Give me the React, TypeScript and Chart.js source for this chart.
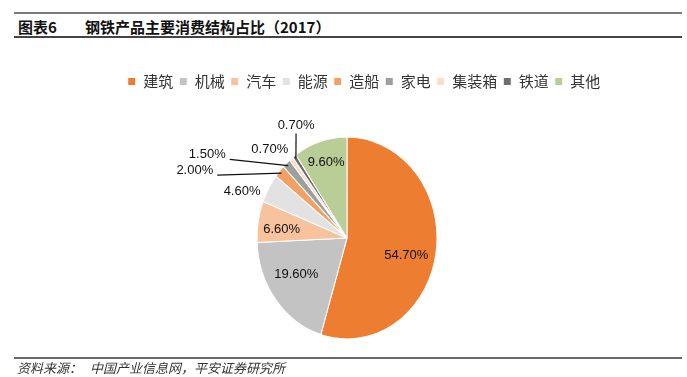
import React, { useEffect, useRef } from "react";
import { Chart, registerables } from "chart.js";

Chart.register(...registerables);

const categories = ["建筑", "机械", "汽车", "能源", "造船", "家电", "集装箱", "铁道", "其他"];
const shares = [54.7, 19.6, 6.6, 4.6, 2.0, 1.5, 0.7, 0.7, 9.6];
const sliceColors = ["#ED7D31", "#C3C3C3", "#F8C29C", "#E2E2E2", "#F3A064", "#9E9E9E", "#FBDECA", "#6E6E6E", "#B9CD96"];

// label placement relative to each slice: angular offset (deg) from slice middle, radial factor, leader line
const labelAngleOffset = [6, 5, -3, -7.8, -19.7, -19.6, -5.9, 8.9, 0];
const labelRadius = [0.68, 0.67, 0.73, 1.255, 1.82, 1.76, 1.23, 1.25, 0.78];
const labelLeader = ["", "", "", "", "side", "side", "", "down", ""];

const SCALE_Y = 1.122;
const PIE_RADIUS = 90;

const ellipsePlugin = {
  id: "ellipsePie",
  afterLayout(chart: any) {
    const lg = chart.legend;
    if (lg) {
      lg.left += 17;
      lg.right += 17;
    }
  },
  beforeDatasetsDraw(chart: any) {
    const arcs = chart.getDatasetMeta(0).data;
    if (!arcs.length) return;
    const { x, y } = arcs[0];
    const ctx = chart.ctx;
    ctx.save();
    ctx.translate(x, y);
    ctx.scale(1, SCALE_Y);
    ctx.translate(-x, -y);
  },
  afterDatasetsDraw(chart: any) {
    const ctx = chart.ctx;
    ctx.restore();
    const arcs = chart.getDatasetMeta(0).data;
    ctx.save();
    ctx.font = "13px 'Liberation Sans', Arial, sans-serif";
    ctx.fillStyle = "#111";
    ctx.strokeStyle = "#111";
    ctx.lineWidth = 1.2;
    ctx.textAlign = "center";
    ctx.textBaseline = "middle";
    arcs.forEach((arc: any, i: number) => {
      const cx = arc.x;
      const cy = arc.y;
      const R = arc.outerRadius;
      const mid = (arc.startAngle + arc.endAngle) / 2;
      const a = mid + (labelAngleOffset[i] * Math.PI) / 180;
      const tx = cx + Math.cos(a) * R * labelRadius[i];
      const ty = cy + Math.sin(a) * R * labelRadius[i] * SCALE_Y;
      const text = shares[i].toFixed(2) + "%";
      ctx.fillText(text, tx, ty);
      const ex = cx + Math.cos(mid) * R * 0.97;
      const ey = cy + Math.sin(mid) * R * 0.97 * SCALE_Y;
      if (labelLeader[i] === "side") {
        const w = ctx.measureText(text).width;
        ctx.beginPath();
        ctx.moveTo(tx + w / 2 + 4, ty + 5);
        ctx.lineTo(ex, ey);
        ctx.stroke();
      } else if (labelLeader[i] === "down") {
        ctx.beginPath();
        ctx.moveTo(tx, ty + 8);
        ctx.lineTo(ex, ey);
        ctx.stroke();
      }
    });
    ctx.restore();
  },
};

export default function App() {
  const canvasRef = useRef<HTMLCanvasElement | null>(null);

  useEffect(() => {
    if (!canvasRef.current) return;
    const chart = new Chart(canvasRef.current, {
      type: "pie",
      data: {
        labels: categories,
        datasets: [
          {
            data: shares,
            backgroundColor: sliceColors,
            borderColor: "#ffffff",
            borderWidth: 1,
            radius: PIE_RADIUS,
          } as any,
        ],
      },
      options: {
        responsive: false,
        animation: false,
        layout: { padding: { left: 7, top: 68, bottom: 0 } },
        plugins: {
          legend: {
            position: "top",
            labels: {
              boxWidth: 8,
              boxHeight: 8,
              padding: 6,
              color: "#333",
              font: { size: 15, family: "'Noto Sans CJK SC', sans-serif" },
            },
          },
          tooltip: { enabled: false },
        },
      },
      plugins: [ellipsePlugin],
    });
    return () => chart.destroy();
  }, []);

  const cjk = "'Noto Sans CJK SC', sans-serif";
  return (
    <div style={{ position: "absolute", left: 0, top: 0, width: 687, height: 377, background: "#fff", overflow: "hidden" }}>
      <div style={{ position: "absolute", left: 14, top: 12, width: 668, height: 2, background: "#7a7a7a" }} />
      <div style={{ position: "absolute", left: 18, top: 18, fontFamily: cjk, fontWeight: 700, fontSize: 15, lineHeight: "18px", color: "#111", whiteSpace: "nowrap" }}>
        图表6
      </div>
      <div style={{ position: "absolute", left: 85, top: 18, fontFamily: cjk, fontWeight: 700, fontSize: 15, lineHeight: "18px", color: "#111", whiteSpace: "nowrap" }}>
        钢铁产品主要消费结构占比（2017）
      </div>
      <div style={{ position: "absolute", left: 14, top: 36, width: 668, height: 2, background: "#444" }} />
      <canvas ref={canvasRef} width={687} height={377} style={{ position: "absolute", left: 0, top: 0, width: 687, height: 377 }} />
      <div style={{ position: "absolute", left: 14, top: 357, width: 668, height: 2, background: "#6a6a6a" }} />
      <div style={{ position: "absolute", left: 17, top: 360, fontFamily: cjk, fontStyle: "italic", fontSize: 13, lineHeight: "16px", color: "#333", whiteSpace: "nowrap" }}>
        资料来源：
      </div>
      <div style={{ position: "absolute", left: 90, top: 360, fontFamily: cjk, fontStyle: "italic", fontSize: 13, lineHeight: "16px", color: "#333", whiteSpace: "nowrap" }}>
        中国产业信息网，平安证券研究所
      </div>
    </div>
  );
}
